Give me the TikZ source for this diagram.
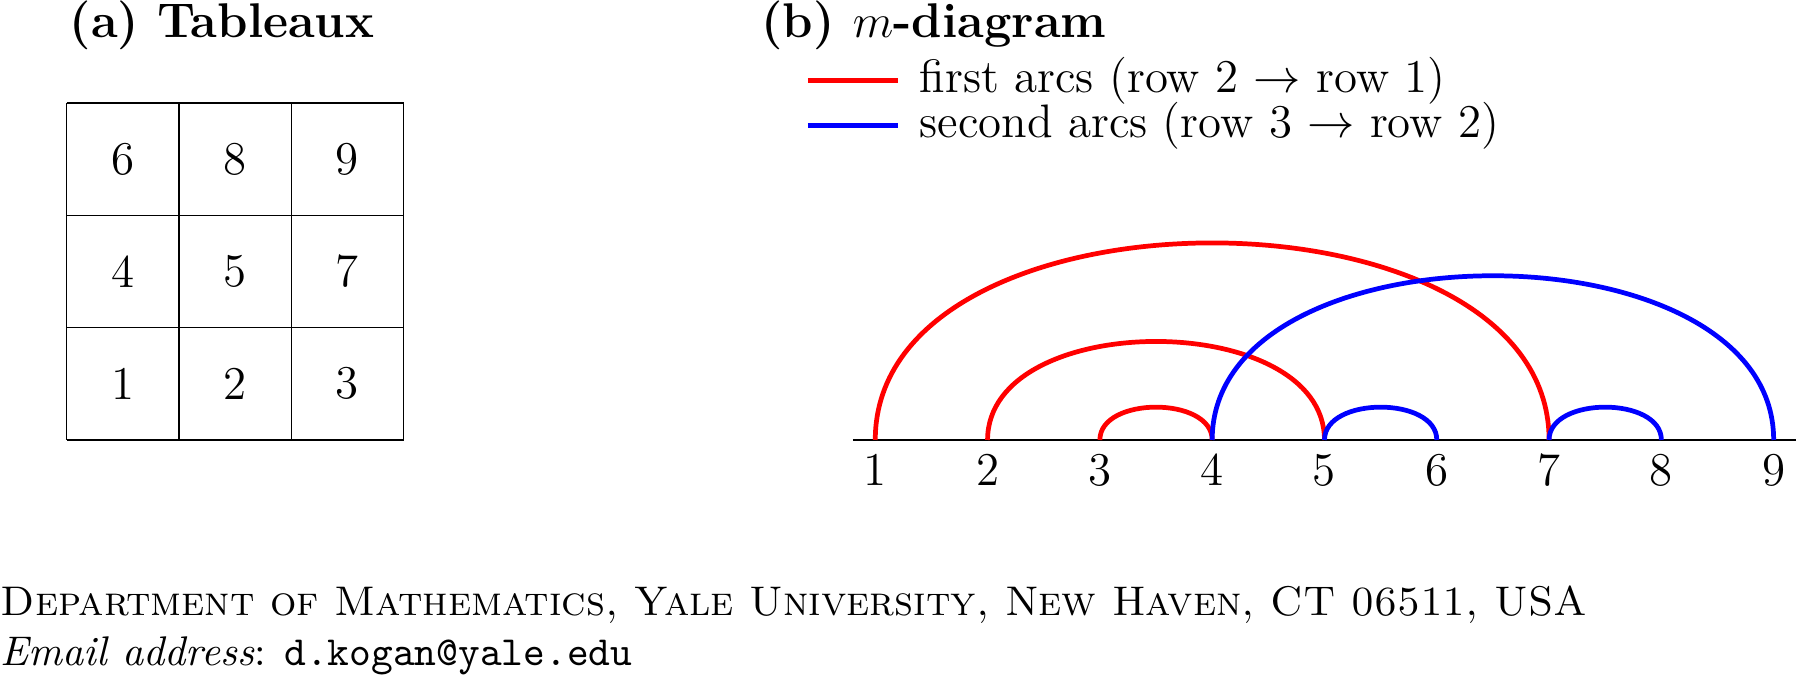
\documentclass[tikz,border=0pt]{standalone}
\usepackage{amsmath,amssymb}
\usepackage{xcolor}
\usepackage{tikz}
\usetikzlibrary{positioning}

\begin{document}
\begin{tikzpicture}[font=\fontsize{11.9}{14.3}\selectfont]
\tikzset{cell/.style={minimum size=1cm,inner sep=0pt},
title/.style={anchor=base west,inner sep=0pt,font=\fontsize{12.35}{14.8}\selectfont\bfseries},
legend/.style={anchor=west,inner xsep=5.4pt,inner ysep=1pt},
firstarc/.style={red,line width=1.2pt},
secondarc/.style={blue,line width=1.2pt},
addr/.style={anchor=base west,inner sep=0pt,font=\fontsize{10.5}{12.6}\selectfont}}
\useasboundingbox (-0.594,-2.1015) rectangle (15.399,3.918);
% (a) tableau
\node[title] (ta) at (0.02,3.586) {(a) Tableaux};
\draw (0,0) grid (3,3);
\foreach \a/\b/\c [count=\r] in {1/2/3,4/5/7,6/8/9} {
  \node[cell] (c\r a) at (0.5,\r-0.5) {\a};
  \node[cell] (c\r b) at (1.5,\r-0.5) {\b};
  \node[cell] (c\r c) at (2.5,\r-0.5) {\c};
}
% (b) m-diagram
\node[title] (tb) at (6.18,3.586) {(b) $m$-diagram};
\coordinate (lr) at (6.6,3.2);
\coordinate (lb) at (6.6,2.8);
\node[legend] (lrt) at (7.4,3.2) {first arcs (row 2 $\to$ row 1)};
\node[legend] (lbt) at (7.4,2.8) {second arcs (row 3 $\to$ row 2)};
\draw[firstarc] (lr) -- (lrt.west);
\draw[secondarc] (lb) -- (lbt.west);
\coordinate (ax0) at (7.0,0);
\coordinate (ax1) at (15.4,0);
\draw (ax0) -- (ax1);
\foreach \i in {1,...,9} {
  \coordinate (p\i) at (6.2+\i,0);
  \node[below] (n\i) at (p\i) {\i};
}
\draw[firstarc] (p1) to[out=90,in=90] (p7);
\draw[firstarc] (p2) to[out=90,in=90] (p5);
\draw[firstarc] (p3) to[out=90,in=90] (p4);
\draw[secondarc] (p4) to[out=90,in=90] (p9);
\draw[secondarc] (p5) to[out=90,in=90] (p6);
\draw[secondarc] (p7) to[out=90,in=90] (p8);
% address
\node[addr] (dept) at (-0.594,-1.567) {\scshape Department of Mathematics, Yale University, New Haven, CT 06511, USA};
\node[addr] (mail) at (-0.594,-2.012) {\textit{Email address}: \texttt{d.kogan@yale.edu}};
\end{tikzpicture}
\end{document}
